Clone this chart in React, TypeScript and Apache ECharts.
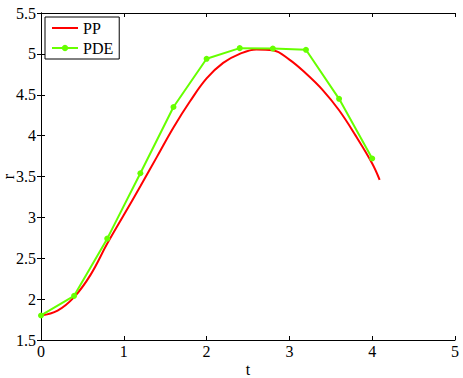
import React, { useEffect, useRef } from "react";
import * as echarts from "echarts";

const ppT = [0, 0.2, 0.4, 0.6, 0.8, 1.0, 1.2, 1.4, 1.6, 1.8, 2.0, 2.2, 2.4, 2.6, 2.8, 3.0, 3.2, 3.4, 3.6, 3.8, 4.0, 4.09];
const ppR = [1.8, 1.86, 2.025, 2.3, 2.68, 3.03, 3.38, 3.74, 4.1, 4.42, 4.7, 4.89, 5.0, 5.055, 5.045, 4.93, 4.76, 4.56, 4.31, 4.0, 3.66, 3.46];
const pdeT = [0, 0.4, 0.8, 1.2, 1.6, 2.0, 2.4, 2.8, 3.2, 3.6, 4.0];
const pdeR = [1.8, 2.04, 2.74, 3.54, 4.35, 4.94, 5.07, 5.065, 5.05, 4.45, 3.72];

const FONT = "Liberation Serif";

export default function App() {
  const ref = useRef<HTMLDivElement>(null);
  useEffect(() => {
    if (!ref.current) return;
    const chart = echarts.init(ref.current, undefined, { renderer: "svg" });
    const axisLine = { show: true, lineStyle: { color: "#000", width: 1 } };
    const tick = { show: true, inside: true, length: 4, lineStyle: { color: "#000" } };
    const label = { color: "#000", fontFamily: FONT, fontSize: 16 };
    chart.setOption({
      animation: false,
      textStyle: { fontFamily: FONT },
      grid: { left: 41, right: 8, top: 13, bottom: 38, containLabel: false, outerBoundsMode: "none" },
      legend: {
        left: 45,
        top: 17,
        orient: "vertical",
        backgroundColor: "#fff",
        borderColor: "#000",
        borderWidth: 1,
        borderRadius: 0,
        padding: [3, 6, 3, 6],
        itemWidth: 26,
        itemHeight: 8,
        itemGap: 4,
        textStyle: { color: "#000", fontFamily: FONT, fontSize: 16 },
        data: [
          { name: "PP", itemStyle: { opacity: 0 } },
          { name: "PDE" },
        ],
      },
      xAxis: [
        {
          type: "value",
          min: 0,
          max: 5,
          interval: 1,
          position: "bottom",
          name: "t",
          nameLocation: "middle",
          nameGap: 21,
          nameMoveOverlap: false,
          nameTextStyle: { color: "#000", fontFamily: FONT, fontSize: 16 },
          axisLine,
          axisTick: tick,
          axisLabel: { ...label, margin: 3 },
          splitLine: { show: false },
        },
        {
          type: "value",
          min: 0,
          max: 5,
          interval: 1,
          position: "top",
          axisLine,
          axisTick: tick,
          axisLabel: { show: false },
          splitLine: { show: false },
        },
      ],
      yAxis: [
        {
          type: "value",
          min: 1.5,
          max: 5.5,
          interval: 0.5,
          position: "left",
          name: "r",
          nameLocation: "middle",
          nameGap: 25,
          nameMoveOverlap: false,
          nameTextStyle: { color: "#000", fontFamily: FONT, fontSize: 16 },
          axisLine,
          axisTick: tick,
          axisLabel: { ...label, margin: 5 },
          splitLine: { show: false },
        },
        {
          type: "value",
          min: 1.5,
          max: 5.5,
          interval: 0.5,
          position: "right",
          axisLine,
          axisTick: tick,
          axisLabel: { show: false },
          splitLine: { show: false },
        },
      ],
      series: [
        {
          name: "PP",
          type: "line",
          smooth: 0.4,
          showSymbol: false,
          symbol: "none",
          color: "#ff0000",
          lineStyle: { color: "#ff0000", width: 2 },
          data: ppT.map((t, i) => [t, ppR[i]]),
        },
        {
          name: "PDE",
          type: "line",
          symbol: "circle",
          symbolSize: 6,
          color: "#66ff00",
          itemStyle: { color: "#66ff00" },
          lineStyle: { color: "#66ff00", width: 2 },
          data: pdeT.map((t, i) => [t, pdeR[i]]),
        },
      ],
    });
    return () => chart.dispose();
  }, []);
  return <div ref={ref} style={{ width: 463, height: 378, position: "absolute", left: 0, top: 0 }} />;
}
